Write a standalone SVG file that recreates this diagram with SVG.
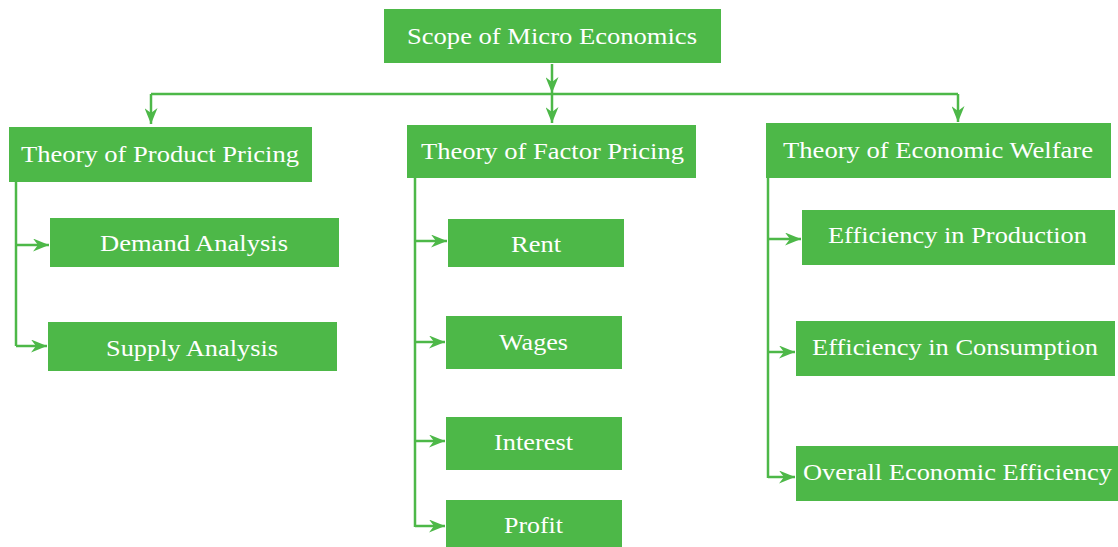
<svg xmlns="http://www.w3.org/2000/svg" width="1118" height="547" viewBox="0 0 1118 547">
<defs>
<marker id="arr" markerUnits="userSpaceOnUse" markerWidth="16" markerHeight="13" viewBox="0 0 16 13" refX="16" refY="6.5" orient="auto">
<path d="M0,0 L16,6.5 L0,13 L5,6.5 z" fill="#4db848"/>
</marker>
<style>
.box{fill:#4db848}
.t{fill:#ffffff;font-family:'Liberation Serif','Times New Roman',Tinos,'DejaVu Serif',serif;font-size:24px;text-anchor:middle}
.c{fill:none;stroke:#4db848;stroke-width:2.5}
.a{marker-end:url(#arr)}
</style>
</defs>
<rect width="1118" height="547" fill="#ffffff"/>
<g id="connectors">
<path class="c a" d="M552,64 V93"/>
<path class="c" d="M151,94 H958"/>
<path class="c a" d="M151,94 V124"/>
<path class="c a" d="M552,94 V123"/>
<path class="c a" d="M958,94 V122"/>
<path class="c" d="M16,182 V346"/>
<path class="c a" d="M16,245 H49"/>
<path class="c a" d="M16,346 H47"/>
<path class="c" d="M415,178 V527"/>
<path class="c a" d="M415,241 H447"/>
<path class="c a" d="M415,342 H445"/>
<path class="c a" d="M415,441 H445"/>
<path class="c a" d="M415,526 H445"/>
<path class="c" d="M768,178 V478"/>
<path class="c a" d="M768,239 H801"/>
<path class="c a" d="M768,352 H795"/>
<path class="c a" d="M768,477 H795"/>
</g>
<g id="root"><rect class="box" x="384" y="9" width="337" height="54"/><text class="t" x="552" y="44" textLength="290" lengthAdjust="spacingAndGlyphs">Scope of Micro Economics</text></g>
<g id="product"><rect class="box" x="9" y="127" width="303" height="55"/><text class="t" x="160" y="162" textLength="278" lengthAdjust="spacingAndGlyphs">Theory of Product Pricing</text></g>
<g id="factor"><rect class="box" x="407" y="125" width="289" height="53"/><text class="t" x="552.5" y="159" textLength="263" lengthAdjust="spacingAndGlyphs">Theory of Factor Pricing</text></g>
<g id="welfare"><rect class="box" x="766" y="123" width="345" height="55"/><text class="t" x="938" y="158" textLength="310" lengthAdjust="spacingAndGlyphs">Theory of Economic Welfare</text></g>
<g id="demand"><rect class="box" x="50" y="218" width="289" height="49"/><text class="t" x="194" y="251" textLength="188" lengthAdjust="spacingAndGlyphs">Demand Analysis</text></g>
<g id="supply"><rect class="box" x="48" y="322" width="289" height="49"/><text class="t" x="192" y="356" textLength="172" lengthAdjust="spacingAndGlyphs">Supply Analysis</text></g>
<g id="rent"><rect class="box" x="448" y="219" width="176" height="48"/><text class="t" x="536" y="252" textLength="50" lengthAdjust="spacingAndGlyphs">Rent</text></g>
<g id="wages"><rect class="box" x="446" y="316" width="176" height="53"/><text class="t" x="533.5" y="350" textLength="69" lengthAdjust="spacingAndGlyphs">Wages</text></g>
<g id="interest"><rect class="box" x="446" y="417" width="176" height="53"/><text class="t" x="533.5" y="450" textLength="79" lengthAdjust="spacingAndGlyphs">Interest</text></g>
<g id="profit"><rect class="box" x="446" y="500" width="176" height="47"/><text class="t" x="533.5" y="533" textLength="59" lengthAdjust="spacingAndGlyphs">Profit</text></g>
<g id="eprod"><rect class="box" x="802" y="210" width="313" height="55"/><text class="t" x="957.5" y="243" textLength="259" lengthAdjust="spacingAndGlyphs">Efficiency in Production</text></g>
<g id="econs"><rect class="box" x="796" y="321" width="319" height="55"/><text class="t" x="955" y="355" textLength="286" lengthAdjust="spacingAndGlyphs">Efficiency in Consumption</text></g>
<g id="overall"><rect class="box" x="796" y="446" width="322" height="55"/><text class="t" x="957.5" y="480" textLength="309" lengthAdjust="spacingAndGlyphs">Overall Economic Efficiency</text></g>
</svg>
